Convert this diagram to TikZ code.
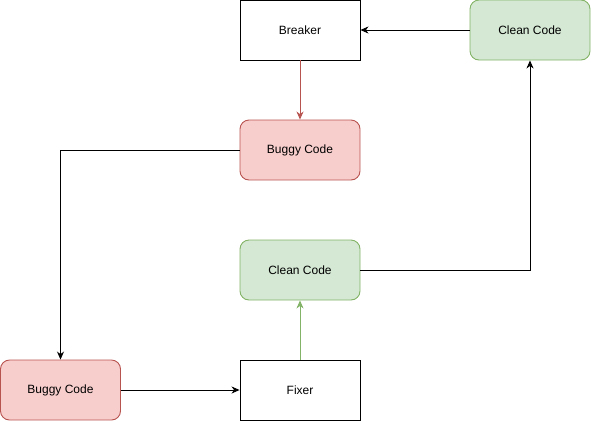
\documentclass[tikz,border=0pt]{standalone}
\usepackage{fontspec}
\setmainfont{Liberation Sans}
\usetikzlibrary{arrows.meta}
\definecolor{redfill}{HTML}{F8CECC}
\definecolor{redline}{HTML}{B85450}
\definecolor{greenfill}{HTML}{D5E8D4}
\definecolor{greenline}{HTML}{82B366}
\begin{document}
\begin{tikzpicture}[x=1pt,y=-1pt,
  plainbox/.style={draw=black,fill=white,minimum width=120pt,minimum height=60pt,inner sep=0pt,font=\fontsize{12}{14}\selectfont,line width=0.9pt},
  buggy/.style={plainbox,draw=redline,fill=redfill,rounded corners=9pt},
  clean/.style={plainbox,draw=greenline,fill=greenfill,rounded corners=9pt},
  conn/.style={line width=0.9pt,-{Stealth[length=8pt,width=7pt,inset=2.5pt]}}]
\useasboundingbox (0,0) rectangle (591,421);
\node[plainbox] (breaker) at (300,30) {Breaker};
\node[clean] (clean1) at (530,30) {Clean Code};
\node[buggy] (buggy1) at (300,150) {Buggy Code};
\node[clean] (clean2) at (300,270) {Clean Code};
\node[buggy] (buggy2) at (60.5,390) {Buggy Code};
\node[plainbox] (fixer) at (300,390) {Fixer};
\draw[conn] (clean1.west) -- (breaker.east);
\draw[conn,draw=redline,color=redline] (breaker.south) -- (buggy1.north);
\draw[conn] (buggy1.west) -| (buggy2.north);
\draw[conn] (buggy2.east) -- (fixer.west);
\draw[conn,draw=greenline,color=greenline] (fixer.north) -- (clean2.south);
\draw[conn] (clean2.east) -| (clean1.south);
\end{tikzpicture}
\end{document}
